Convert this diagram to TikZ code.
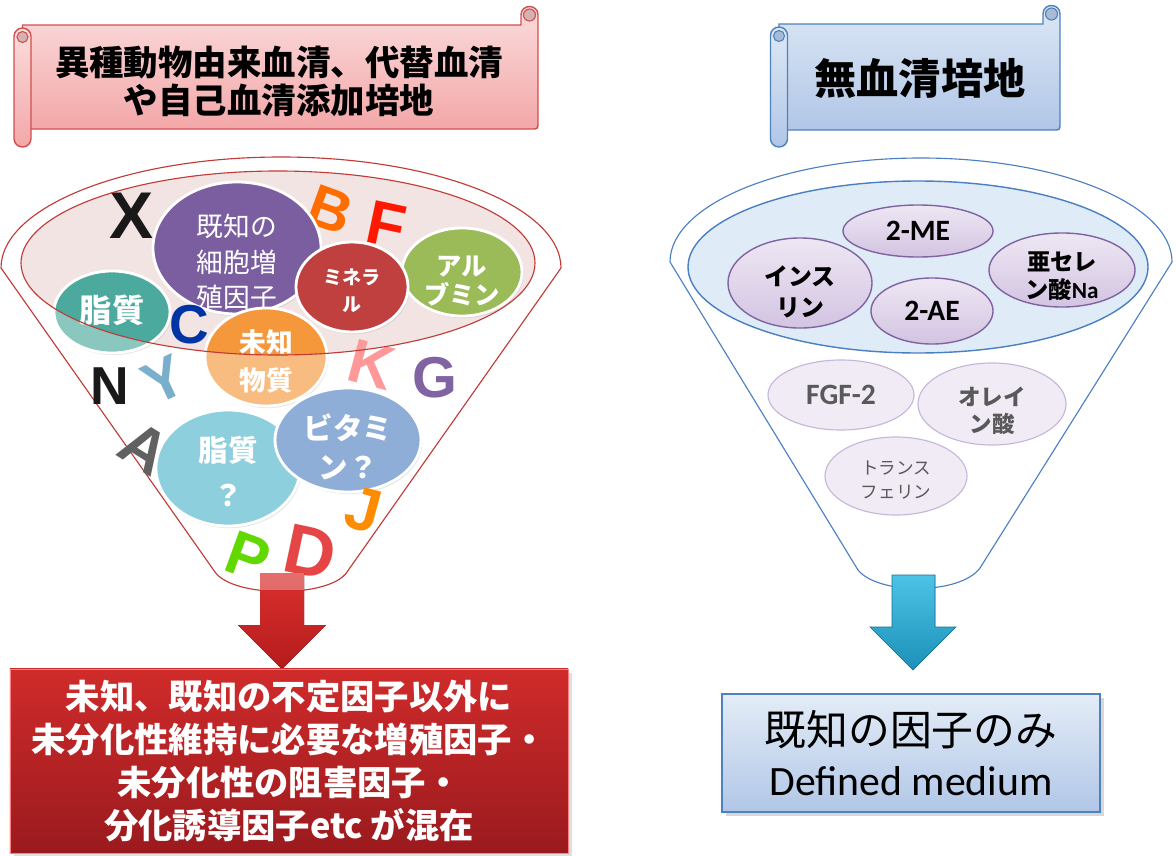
\documentclass[tikz,border=0pt]{standalone}
\usepackage{fontspec}
\usetikzlibrary{shapes.geometric,shadows}
\setmainfont{Noto Sans CJK JP}
\newfontfamily\letterfont{Liberation Sans}
\newfontfamily\calfont{Carlito}
\definecolor{funnelred}{HTML}{C23A36}
\definecolor{funnelblue}{HTML}{4A7FC1}
\definecolor{bowlpink}{HTML}{F3E4E4}
\definecolor{bowlblue}{HTML}{DFEBF7}
\definecolor{pinktop}{HTML}{FBDDDE}
\definecolor{pinkbot}{HTML}{F3A7A8}
\definecolor{pinkline}{HTML}{D0504E}
\definecolor{pinkcurl}{HTML}{D4B1B3}
\definecolor{skytop}{HTML}{DDE8F5}
\definecolor{skybot}{HTML}{B1C6E7}
\definecolor{skyline}{HTML}{4F81BD}
\definecolor{skycurl}{HTML}{A9BBD4}
\definecolor{knownpurple}{HTML}{7B5EA0}
\definecolor{lipidteal}{HTML}{4BA99D}
\definecolor{unknownorange}{HTML}{F5983C}
\definecolor{mineralred}{HTML}{C0403F}
\definecolor{albumingreen}{HTML}{9BBB59}
\definecolor{lipidblue}{HTML}{8ECFDD}
\definecolor{vitaminblue}{HTML}{8EAED8}
\definecolor{lavtop}{HTML}{EEE7F3}
\definecolor{lavbot}{HTML}{D3C4E2}
\definecolor{lavline}{HTML}{8064A2}
\definecolor{palelav}{HTML}{F0EBF5}
\definecolor{palelavline}{HTML}{C7B6D9}
\definecolor{boxredtop}{HTML}{D02B2B}
\definecolor{boxredbot}{HTML}{9A1A1E}
\definecolor{arrowredtop}{HTML}{DA302E}
\definecolor{arrowredbot}{HTML}{B51B1C}
\definecolor{arrowcyantop}{HTML}{4CC3E6}
\definecolor{arrowcyanbot}{HTML}{1C90B8}
\newcommand\fs[2]{\fontsize{#1}{#2}\selectfont}
% scroll banner: roll x, right edge, top, bottom, roll end, colour set
\newcommand\scrollbanner[6]{%
  \draw[#6 scroll] (#1,#3) -- ({#2-17},#3) -- ({#2-17},{#3-10})
    .. controls ({#2-17},{#3-21.3}) and (#2,{#3-21.3}) .. (#2,{#3-10})
    -- (#2,{#4-7}) .. controls (#2,#4) .. ({#2-7},#4) -- (#1,#4) -- cycle;
  \filldraw[#6 curl] ({#2-8.5},{#3-10}) circle [radius=6];
  \draw[#6 scroll, rounded corners=0.21cm] ({#1-8.5},{#3+3}) rectangle ({#1+8.5},#5);
  \filldraw[#6 curl] (#1,{#3+12}) circle [radius=5.5];
}
% one loose letter: name, x, y, angle, size, colour
\newcommand\glyph[6]{%
  \node[letter=#5, text=#6, rotate=#4] (#1) at (#2,#3) {#1};
}

\begin{document}
\begin{tikzpicture}[x=0.025cm,y=-0.025cm]
\tikzset{
  pink scroll/.style={draw=pinkline, line width=1pt, top color=pinktop, bottom color=pinkbot},
  pink curl/.style={fill=pinkcurl, draw=pinkline, line width=0.8pt},
  sky scroll/.style={draw=skyline, line width=1pt, top color=skytop, bottom color=skybot},
  sky curl/.style={fill=skycurl, draw=skyline, line width=0.8pt},
  letter/.style={font=\letterfont\bfseries\fs{#1}{#1}, inner sep=0pt},
  blob/.style n args={3}{ellipse, fill=#1, draw=white, line width=2pt,
    minimum width=#2*0.05cm, minimum height=#3*0.05cm, inner sep=0pt,
    drop shadow={opacity=0.2, shadow xshift=1pt, shadow yshift=-1.5pt}},
  lav/.style 2 args={ellipse, top color=lavtop, bottom color=lavbot, draw=lavline, line width=1pt,
    minimum width=#1*0.05cm, minimum height=#2*0.05cm, inner sep=0pt},
  palelav/.style 2 args={ellipse, fill=palelav, draw=palelavline, line width=0.8pt,
    minimum width=#1*0.05cm, minimum height=#2*0.05cm, inner sep=0pt},
  lbl/.style={align=center, inner sep=0pt},
}
\useasboundingbox[fill=white] (0,0) rectangle (1176,855);

%% serum side
\scrollbanner{22.5}{538}{25}{129}{147}{pink}
\node[lbl, font=\bfseries\fs{24.5}{27}] (serum title) at (279,81)
  {異種動物由来血清、代替血清\\や自己血清添加培地};

\draw[funnelred, line width=0.8pt, fill=white] (1,268) .. controls (1,206.7) and (126.4,157) .. (281,157)
  .. controls (435.6,157) and (561,206.7) .. (561,268) -- (347,572)
  .. controls (330,598) and (233,598) .. (215,572) -- cycle;
\fill[bowlpink] (278,263) ellipse [x radius=257, y radius=92];

\glyph{B}{330}{210}{-20}{42}{orange!85!red}
\glyph{F}{386}{225}{-12}{44}{red!80!orange}
\glyph{A}{145}{448}{-32}{44}{black!62}

\node[blob={lipidteal}{58}{41}] (lipid) at (112,312) {};
\node[blob={knownpurple}{84}{66}] (known) at (237,248) {};
\node[blob={albumingreen}{60}{44}] (albumin) at (462,272) {};
\node[blob={mineralred}{56}{45}] (mineral) at (352,287) {};
\node[blob={unknownorange}{61}{49}] (unknown) at (266,357) {};
\node[blob={lipidblue}{72}{58}] (lipidq) at (228,468) {};
\node[blob={vitaminblue}{73}{52}] (vitamin) at (348,440) {};

% paler below the rim
\begin{scope}[even odd rule]
  \clip (-10,-10) rectangle (1200,900) (278,263) ellipse [x radius=257, y radius=92];
  \fill[white, opacity=0.35] (lipid.center) ellipse [x radius=58, y radius=41];
  \fill[white, opacity=0.35] (unknown.center) ellipse [x radius=61, y radius=49];
\end{scope}

\node[lbl, text=white, font=\fs{19}{25}] (known txt) at (237,262) {既知の\\細胞増\\殖因子};
\node[lbl, text=white, font=\bfseries\fs{23}{23}] (lipid txt) at (112,310) {脂質};
\node[lbl, text=white, font=\bfseries\fs{19}{27}] (unknown txt) at (266,361) {未知\\物質};
\node[lbl, text=white, font=\bfseries\fs{13.5}{19}] (mineral txt) at (352,291) {ミネラ\\ル};
\node[lbl, text=white, font=\bfseries\fs{18}{21}] (albumin txt) at (462,281) {アル\\ブミン};
\node[lbl, text=white, font=\bfseries\fs{21}{32}] (lipidq txt) at (228,472) {脂質\\？};
\node[lbl, text=white, font=\bfseries\fs{21}{28}] (vitamin txt) at (348,447) {ビタミ\\ン？};

\glyph{X}{132}{216}{0}{47}{black!90}
\glyph{C}{189}{325}{0}{39}{blue!55!black!80!cyan}
\glyph{Y}{164}{380}{25}{42}{blue!35!cyan!40!white!80!black}
\glyph{N}{110}{386}{0}{38}{black!90}
\glyph{K}{372}{365}{-15}{44}{red!40!white}
\glyph{G}{435}{378}{0}{41}{lavline}
\glyph{J}{364}{510}{-15}{44}{orange!90!yellow}
\glyph{D}{310}{552}{-12}{50}{red!70!white!90!black}
\glyph{P}{248}{557}{-20}{44}{green!55!yellow!85!black}

\draw[funnelred, line width=0.8pt] (278,263) ellipse [x radius=257, y radius=92];

\coordinate (redtip) at (282,669);
\fill[top color=arrowredtop, bottom color=arrowredbot] (redtip) -- ++(-44,-44) -- ++(22,0)
  -- ++(0,-52) -- ++(44,0) -- ++(0,52) -- ++(22,0) -- cycle;
\fill[white, opacity=0.3] (260,573) rectangle (304,590);

\node[rectangle, top color=boxredtop, bottom color=boxredbot, draw=red!50!white, line width=0.6pt,
  minimum width=13.95cm, minimum height=4.6cm, align=center, text=white,
  font=\bfseries\fs{24.4}{30.6}, drop shadow={opacity=0.25}] (mixbox) at (289,761)
  {未知、既知の不定因子以外に\\未分化性維持に必要な増殖因子・\\未分化性の阻害因子・\\分化誘導因子etc が混在};

%% serum-free side
\scrollbanner{779}{1060}{24}{130}{147}{sky}
\node[lbl, font=\bfseries\fs{30}{30}] (sfm title) at (920,78) {無血清培地};

\draw[funnelblue, line width=0.8pt, fill=white] (670,262) .. controls (670,204.6) and (782.4,158) .. (921,158)
  .. controls (1059.6,158) and (1172,204.6) .. (1172,262) -- (980,568)
  .. controls (960,595) and (878,595) .. (858,570) -- cycle;
\filldraw[fill=bowlblue, draw=funnelblue, line width=1pt] (918,267) ellipse [x radius=230, y radius=86];

\node[lav={75}{26}] (me) at (918,231) {};
\node[lav={72}{45}] (insulin) at (800,283) {};
\node[lav={61}{33}] (ae) at (932,311) {};
\node[lav={73}{37}] (selenite) at (1062,270) {};
\node[lbl, font=\calfont\bfseries\fs{21}{21}] (me txt) at (me) {2-ME};
\node[lbl, font=\bfseries\fs{17}{22}] (insulin txt) at (800,292) {インス\\リン};
\node[lbl, font=\calfont\bfseries\fs{21}{21}] (ae txt) at (ae) {2-AE};
\node[lbl, font=\bfseries\fs{16.5}{20}] (selenite txt) at (1062,276) {亜セレ\\ン酸{\calfont Na}};

\node[palelav={73}{35}] (fgf) at (841,395) {};
\node[palelav={74}{41}] (oleic) at (992,404) {};
\node[palelav={71}{39}] (transferrin) at (896,476) {};
\node[lbl, text=black!65, font=\calfont\bfseries\fs{21}{21}] (fgf txt) at (fgf) {FGF-2};
\node[lbl, text=black!65, font=\bfseries\fs{16}{19}] (oleic txt) at (992,411) {オレイ\\ン酸};
\node[lbl, text=black!65, font=\fs{12.5}{17}] (transferrin txt) at (896,480) {トランス\\フェリン};

\coordinate (bluetip) at (913,670);
\filldraw[top color=arrowcyantop, bottom color=arrowcyanbot, draw=arrowcyanbot!80!black, line width=0.4pt]
  (bluetip) -- ++(-43,-43) -- ++(22,0) -- ++(0,-52) -- ++(43,0) -- ++(0,52) -- ++(21,0) -- cycle;

\node[rectangle, top color=skytop!80!white, bottom color=skybot, draw=skyline, line width=1pt,
  minimum width=9.45cm, minimum height=2.95cm, align=center, font=\fs{29.7}{35.6},
  drop shadow={opacity=0.3}] (defbox) at (911,753)
  {既知の因子のみ\\{\calfont Defined medium}};
\end{tikzpicture}
\end{document}
